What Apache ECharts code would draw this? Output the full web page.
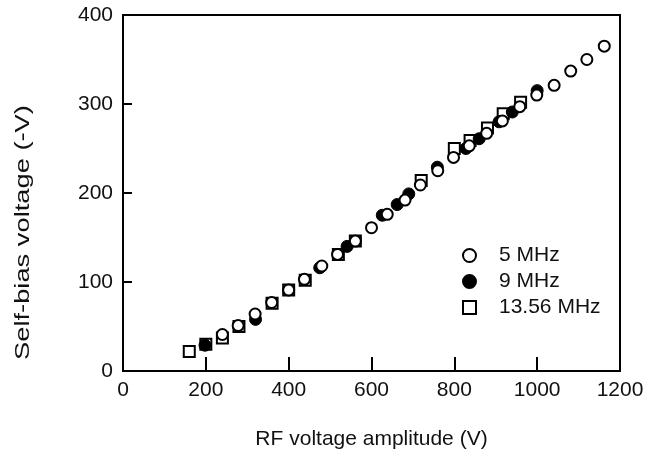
<!DOCTYPE html>
<html>
<head>
<meta charset="utf-8">
<script src="https://cdn.jsdelivr.net/npm/echarts@6/dist/echarts.min.js"></script>
<style>
html,body{margin:0;padding:0;background:#fff;}
#chart{width:657px;height:457px;}
</style>
</head>
<body>
<div id="chart"></div>
<script>
// RF voltage amplitude (V) and self-bias voltage (-V)
const f5x = [240, 278, 319, 359, 400, 438, 480, 518, 561, 600, 638, 681, 718, 760, 798, 836, 878, 916, 958, 999, 1041, 1081, 1120, 1162];
const f5y = [41, 51, 64, 77, 91, 103, 118, 131, 146, 161, 176, 192, 209, 225, 240, 253, 267, 281, 297, 310, 321, 337, 350, 365];
const f9x = [198, 320, 475, 541, 626, 662, 690, 759, 828, 860, 908, 940, 1000];
const f9y = [29, 58, 116, 140, 175, 187, 199, 229, 250, 261, 280, 291, 315];
const f13x = [160, 200, 240, 280, 360, 400, 440, 520, 561, 720, 800, 838, 880, 918, 960];
const f13y = [22, 30, 37, 50, 76, 91, 102, 131, 146, 214, 250, 259, 273, 289, 302];
const xTicks = [0, 200, 400, 600, 800, 1000, 1200];
const yTicks = [0, 100, 200, 300, 400];
const names = ['5 MHz', '9 MHz', '13.56 MHz'];

const pair = (xs, ys) => xs.map((x, i) => [x, ys[i]]);
const FONT = 'Liberation Sans, Arial, Helvetica, sans-serif';

const chart = echarts.init(document.getElementById('chart'));
chart.setOption({
  animation: false,
  backgroundColor: '#fff',
  grid: { left: 123, right: 37, top: 15, bottom: 86, show: true, borderColor: '#000', borderWidth: 2, backgroundColor: 'transparent' },
  xAxis: {
    type: 'value', min: xTicks[0], max: xTicks[xTicks.length - 1], interval: 200,
    name: 'RF voltage amplitude (V)', nameLocation: 'middle', nameGap: 58,
    nameTextStyle: { fontFamily: FONT, fontSize: 21, color: '#111' },
    axisLine: { lineStyle: { color: '#000', width: 2 } },
    axisTick: { inside: true, length: 14, lineStyle: { color: '#000', width: 2 } },
    axisLabel: { fontFamily: FONT, fontSize: 21, color: '#111', margin: 9, formatter: v => String(v) },
    splitLine: { show: false }
  },
  yAxis: {
    type: 'value', min: yTicks[0], max: yTicks[yTicks.length - 1], interval: 100,
    axisLine: { lineStyle: { color: '#000', width: 2 } },
    axisTick: { inside: true, length: 9, lineStyle: { color: '#000', width: 2 } },
    axisLabel: { fontFamily: FONT, fontSize: 21, color: '#111', margin: 10, formatter: v => String(v) },
    splitLine: { show: false }
  },
  graphic: [{
    type: 'text', x: 13, y: 360, rotation: Math.PI / 2, scaleX: 1.3, scaleY: 1,
    style: { text: 'Self-bias voltage (-V)', font: '21px ' + FONT, fill: '#111', textVerticalAlign: 'top' }
  }],
  legend: {
    data: names, orient: 'vertical', left: 457, top: 240,
    itemWidth: 13, itemHeight: 13, itemGap: 5,
    textStyle: { fontFamily: FONT, fontSize: 21, color: '#111', lineHeight: 20, padding: [0, 0, 0, 18] }
  },
  series: [
    { name: names[2], type: 'scatter', symbol: 'rect', symbolSize: 11, data: pair(f13x, f13y),
      itemStyle: { color: '#fff', borderColor: '#000', borderWidth: 2, opacity: 1 } },
    { name: names[1], type: 'scatter', symbol: 'circle', symbolSize: 12, data: pair(f9x, f9y),
      itemStyle: { color: '#000', borderColor: '#000', borderWidth: 1, opacity: 1 } },
    { name: names[0], type: 'scatter', symbol: 'circle', symbolSize: 11, data: pair(f5x, f5y),
      itemStyle: { color: '#fff', borderColor: '#000', borderWidth: 2, opacity: 1 } }
  ]
});
</script>
</body>
</html>
